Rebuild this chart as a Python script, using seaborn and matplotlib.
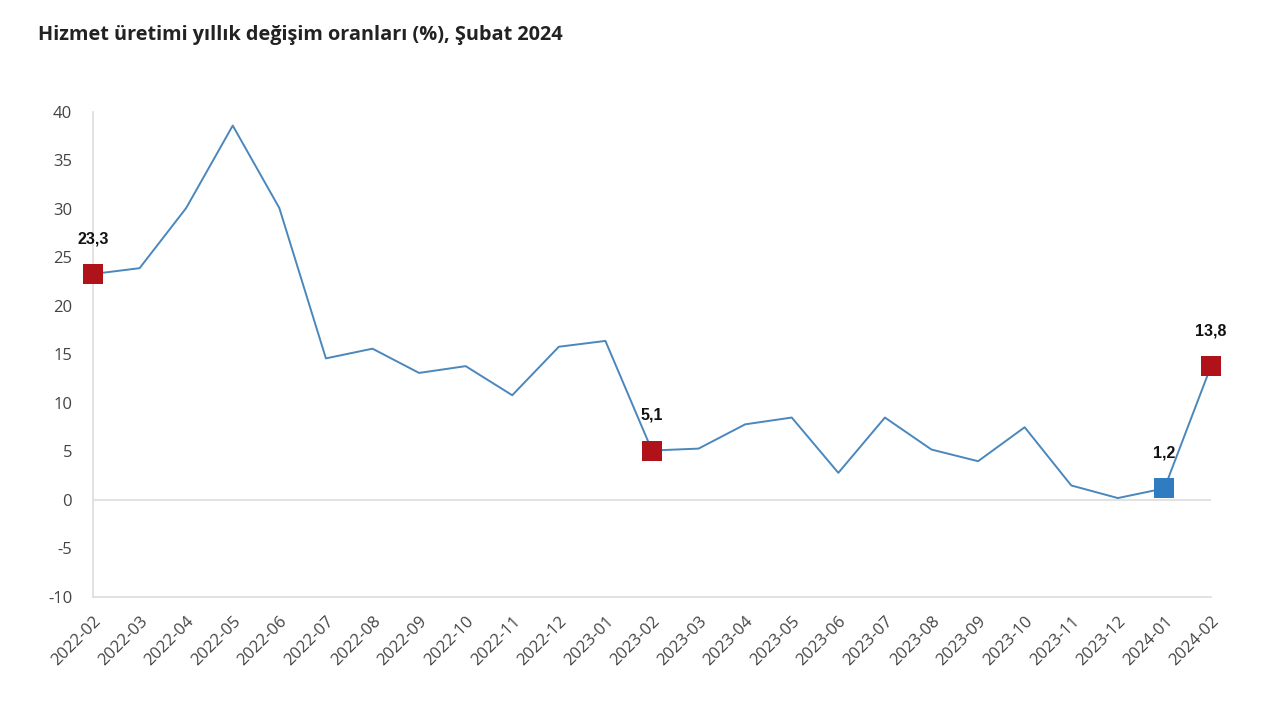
import pandas as pd
import numpy as np
import matplotlib.pyplot as plt
import seaborn as sns

# Monthly data
months = ['2022-02', '2022-03', '2022-04', '2022-05', '2022-06', '2022-07',
          '2022-08', '2022-09', '2022-10', '2022-11', '2022-12', '2023-01',
          '2023-02', '2023-03', '2023-04', '2023-05', '2023-06', '2023-07',
          '2023-08', '2023-09', '2023-10', '2023-11', '2023-12', '2024-01',
          '2024-02']
values = [23.3, 23.9, 30.1, 38.6, 30.1, 14.6, 15.6, 13.1, 13.8, 10.8, 15.8, 16.4,
          5.1, 5.3, 7.8, 8.5, 2.8, 8.5, 5.2, 4.0, 7.5, 1.5, 0.2, 1.2, 13.8]

# highlighted points
hl_months = ['2022-02', '2023-02', '2024-01', '2024-02']
hl_colors = ['#b01219', '#b01219', '#2f7dc0', '#b01219']

df = pd.DataFrame({'month': months, 'value': values})
df['pos'] = np.arange(len(df))

sns.set_style('white')
plt.rcParams['font.family'] = ['Open Sans', 'DejaVu Sans']
plt.rcParams['axes.unicode_minus'] = False

fig = plt.figure(figsize=(12.8, 7.2), dpi=100)
ax = fig.add_axes([93 / 1280, 123 / 720, 1118 / 1280, 485 / 720])

sns.lineplot(data=df, x='pos', y='value', ax=ax, color='#4a87bd', linewidth=1.4)

hl = df[df['month'].isin(hl_months)].copy()
hl['color'] = hl_colors
for _, r in hl.iterrows():
    ax.scatter(r['pos'], r['value'], marker='s', s=190, color=r['color'],
               zorder=5, linewidths=0, clip_on=False)
    label = f"{r['value']:.1f}".replace('.', ',')
    ax.annotate(label, (r['pos'], r['value']), xytext=(0, 20),
                textcoords='offset points', ha='center', va='bottom',
                fontsize=11.5, fontweight='bold', color='#111111',
                family=['Liberation Sans', 'DejaVu Sans'])

ax.set_xlim(0, len(df) - 1)
ax.set_ylim(-10, 40)
ax.set_yticks(range(-10, 41, 5))
ax.set_xticks(df['pos'])
ax.set_xticklabels(df['month'], rotation=45, ha='right', rotation_mode='anchor')
ax.tick_params(axis='both', labelsize=12, colors='#444444', length=0)
ax.tick_params(axis='x', pad=12)
ax.tick_params(axis='y', pad=15)
ax.axhline(0, color='#dddddd', linewidth=1.2, zorder=1)
ax.set_xlabel('')
ax.set_ylabel('')

for s in ['top', 'right']:
    ax.spines[s].set_visible(False)
ax.spines['left'].set_color('#dddddd')
ax.spines['bottom'].set_color('#dddddd')
ax.spines['left'].set_linewidth(1.2)
ax.spines['bottom'].set_linewidth(1.2)

fig.text(38 / 1280, 1 - 35 / 720, 'Hizmet üretimi yıllık değişim oranları (%), Şubat 2024',
         fontsize=14.3, fontweight='bold', color='#222222', va='center', ha='left')

fig.savefig('out.png', dpi=100)
